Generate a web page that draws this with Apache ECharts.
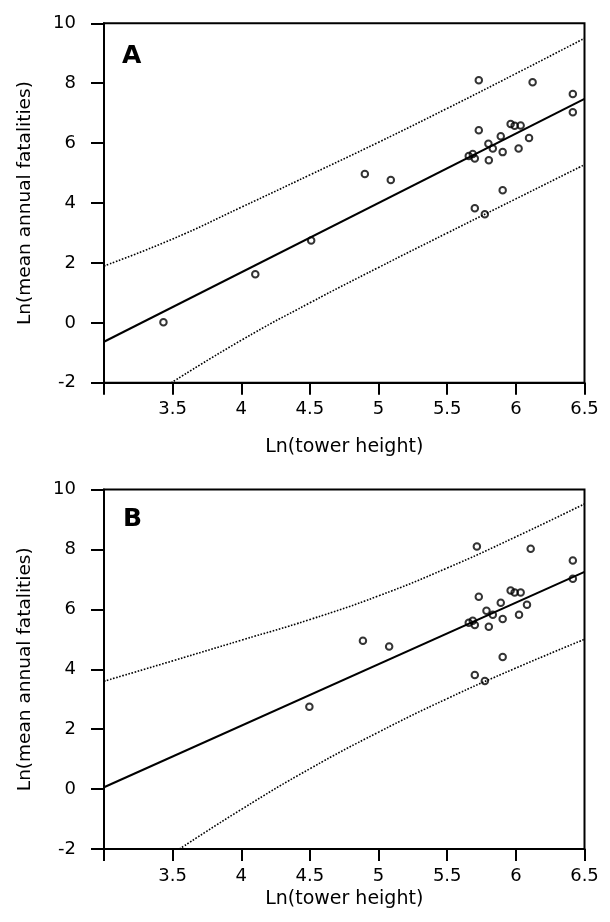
<!DOCTYPE html>
<html>
<head>
<meta charset="utf-8">
<script src="https://cdn.jsdelivr.net/npm/echarts@6/dist/echarts.min.js"></script>
<style>
html,body{margin:0;padding:0;background:#fff;}
#c{width:610px;height:922px;}
</style>
</head>
<body>
<div id="c"></div>
<script>
// ---- Data ----
const xTicks = [3, 3.5, 4, 4.5, 5, 5.5, 6, 6.5];
const yTicks = [-2, 0, 2, 4, 6, 8, 10];

// Panel A observations: [ln(tower height), ln(mean annual fatalities)]
const pointsA = [
  [3.433, 0.02], [4.102, 1.62], [4.509, 2.75], [4.900, 4.97], [5.089, 4.77],
  [5.730, 8.10], [6.122, 8.03], [6.415, 7.64], [6.415, 7.03], [5.730, 6.43],
  [5.962, 6.64], [5.991, 6.58], [6.035, 6.59], [5.890, 6.23], [6.096, 6.17],
  [5.800, 5.98], [5.832, 5.82], [6.020, 5.82], [5.657, 5.57], [5.686, 5.64],
  [5.701, 5.49], [5.803, 5.43], [5.904, 5.70], [5.904, 4.43], [5.701, 3.83],
  [5.774, 3.63]
];
const fitA = [[3.0, -0.63], [6.5, 7.48]];
const upperA = [[3.0, 1.90], [3.5, 2.80], [4.0, 3.86], [4.5, 4.94], [5.0, 6.03], [5.5, 7.16], [6.0, 8.32], [6.5, 9.50]];
const lowerA = [[3.49, -2.0], [4.0, -0.58], [4.5, 0.67], [5.0, 1.85], [5.5, 3.00], [6.0, 4.14], [6.5, 5.28]];

// Panel B observations
const pointsB = [
  [4.496, 2.75], [4.886, 4.95], [5.077, 4.76],
  [5.716, 8.10], [6.108, 8.02], [6.415, 7.63], [6.415, 7.02], [5.730, 6.42],
  [5.962, 6.63], [5.991, 6.56], [6.035, 6.56], [5.890, 6.22], [6.081, 6.15],
  [5.786, 5.95], [5.832, 5.82], [6.023, 5.82], [5.657, 5.55], [5.686, 5.62],
  [5.701, 5.48], [5.803, 5.42], [5.904, 5.68], [5.904, 4.41], [5.701, 3.81],
  [5.774, 3.61]
];
const fitB = [[3.0, 0.06], [6.5, 7.25]];
const upperB = [[3.0, 3.60], [3.5, 4.28], [4.0, 4.97], [4.5, 5.66], [5.0, 6.45], [5.5, 7.38], [6.0, 8.42], [6.5, 9.52]];
const lowerB = [[3.55, -2.0], [4.0, -0.68], [4.5, 0.68], [5.0, 1.90], [5.5, 3.02], [6.0, 4.04], [6.5, 5.00]];

const panelLabels = ['A', 'B'];
const xTitle = 'Ln(tower height)';
const yTitle = 'Ln(mean annual fatalities)';

// ---- Chart ----
const FONT = 'DejaVu Sans, Liberation Sans, Arial, sans-serif';
const chart = echarts.init(document.getElementById('c'), null, {renderer: 'canvas'});

const grids = [
  {left: 104, top: 23.3, width: 480.5, height: 359.5},
  {left: 104, top: 489.5, width: 480.5, height: 359.5}
];
const nameGaps = [55, 41];

function xAxisFor(i) {
  return {
    type: 'value', gridIndex: i,
    min: xTicks[0], max: xTicks[xTicks.length - 1], interval: 0.5,
    name: xTitle, nameLocation: 'middle', nameGap: nameGaps[i],
    nameTextStyle: {fontFamily: FONT, fontSize: 19, color: '#000'},
    axisLine: {show: true, onZero: false, lineStyle: {color: '#000', width: 2}},
    axisTick: {show: true, length: 12, lineStyle: {color: '#000', width: 2}},
    axisLabel: {
      margin: 18, fontFamily: FONT, fontSize: 18, color: '#000',
      showMinLabel: true, showMaxLabel: true,
      formatter: v => (v === xTicks[0] ? '' : String(v))
    },
    splitLine: {show: false}
  };
}
function yAxisFor(i) {
  return {
    type: 'value', gridIndex: i,
    min: yTicks[0], max: yTicks[yTicks.length - 1], interval: 2,
    name: yTitle, nameLocation: 'middle', nameGap: 69, nameRotate: 90,
    nameTextStyle: {fontFamily: FONT, fontSize: 18.5, color: '#000'},
    axisLine: {show: true, onZero: false, lineStyle: {color: '#000', width: 2}},
    axisTick: {show: true, length: 13, lineStyle: {color: '#000', width: 2}},
    axisLabel: {margin: 28, fontFamily: FONT, fontSize: 18, color: '#000',
      showMinLabel: true, showMaxLabel: true},
    splitLine: {show: false}
  };
}

function seriesFor(i, pts, fit, up, lo) {
  const base = {xAxisIndex: i, yAxisIndex: i, animation: false, silent: true};
  const dotted = {color: '#000', width: 1.6, type: [1.6, 1.6]};
  return [
    Object.assign({}, base, {
      type: 'line', data: up, showSymbol: false, smooth: 0.5, clip: true, lineStyle: dotted
    }),
    Object.assign({}, base, {
      type: 'line', data: lo, showSymbol: false, smooth: 0.5, clip: true, lineStyle: dotted
    }),
    Object.assign({}, base, {
      type: 'line', data: fit, showSymbol: false, clip: true,
      lineStyle: {color: '#000', width: 2}
    }),
    Object.assign({}, base, {
      type: 'scatter', data: pts, symbol: 'circle', symbolSize: 6.5,
      itemStyle: {color: 'rgba(255,255,255,0)', borderColor: '#000', borderWidth: 2},
      z: 5
    })
  ];
}

const option = {
  backgroundColor: '#fff',
  animation: false,
  grid: grids.map(g => Object.assign({show: true, borderColor: '#000', borderWidth: 2, backgroundColor: 'transparent'}, g)),
  xAxis: [xAxisFor(0), xAxisFor(1)],
  yAxis: [yAxisFor(0), yAxisFor(1)],
  series: [].concat(
    seriesFor(0, pointsA, fitA, upperA, lowerA),
    seriesFor(1, pointsB, fitB, upperB, lowerB)
  ),
  graphic: [
    {type: 'text', left: 122, top: 44, style: {text: panelLabels[0], font: 'bold 25px ' + FONT, fill: '#000'}},
    {type: 'text', left: 123, top: 507, style: {text: panelLabels[1], font: 'bold 25px ' + FONT, fill: '#000'}}
  ]
};
chart.setOption(option);
</script>
</body>
</html>
